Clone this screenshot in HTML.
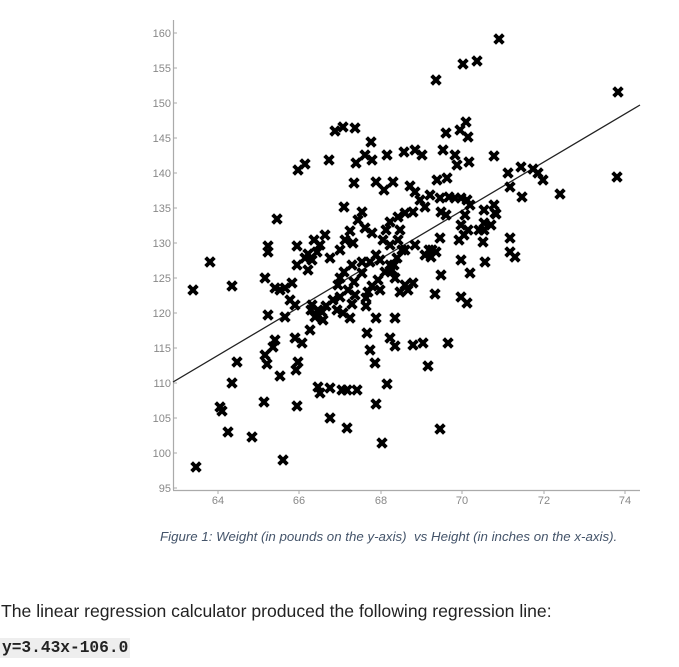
<!DOCTYPE html>
<html><head><meta charset="utf-8"><style>
body{margin:0;background:#fff;width:679px;height:667px;overflow:hidden;position:relative;font-family:"Liberation Sans",sans-serif}
.cap{position:absolute;left:160px;top:529px;font-size:13.3px;font-style:italic;color:#44546a;white-space:nowrap}
.t1{position:absolute;left:1px;top:601px;font-size:17.6px;color:#222;white-space:nowrap}
.t2{position:absolute;left:0;top:638px;font-family:"Liberation Mono",monospace;font-weight:bold;font-size:16.2px;background:#eee;padding:1px 2px;color:#222}
</style></head><body>
<svg width="679" height="520" style="position:absolute;left:0;top:0">
<defs><path id="m" d="M-5,-3 L-3,-5 L0,-2 L3,-5 L5,-3 L2,0 L5,3 L3,5 L0,2 L-3,5 L-5,3 L-2,0Z" fill="#000" stroke="#000" stroke-width="1"/></defs>
<g stroke="#aaa" stroke-width="1.2" fill="none">
<line x1="173.5" y1="20" x2="173.5" y2="490"/>
<line x1="173" y1="490.5" x2="640" y2="490.5"/>
</g>
<g stroke="#aaa">
<line x1="173" y1="33" x2="177" y2="33"/><line x1="173" y1="68" x2="177" y2="68"/><line x1="173" y1="103" x2="177" y2="103"/><line x1="173" y1="138" x2="177" y2="138"/><line x1="173" y1="173" x2="177" y2="173"/><line x1="173" y1="208" x2="177" y2="208"/><line x1="173" y1="243" x2="177" y2="243"/><line x1="173" y1="278" x2="177" y2="278"/><line x1="173" y1="313" x2="177" y2="313"/><line x1="173" y1="348" x2="177" y2="348"/><line x1="173" y1="383" x2="177" y2="383"/><line x1="173" y1="418" x2="177" y2="418"/><line x1="173" y1="453" x2="177" y2="453"/><line x1="173" y1="488" x2="177" y2="488"/>
<line x1="218" y1="490" x2="218" y2="494"/><line x1="299" y1="490" x2="299" y2="494"/><line x1="381" y1="490" x2="381" y2="494"/><line x1="462" y1="490" x2="462" y2="494"/><line x1="544" y1="490" x2="544" y2="494"/><line x1="625" y1="490" x2="625" y2="494"/>
</g>
<g font-size="11" fill="#888" text-anchor="end">
<text x="171" y="37">160</text><text x="171" y="72">155</text><text x="171" y="107">150</text><text x="171" y="142">145</text><text x="171" y="177">140</text><text x="171" y="212">135</text><text x="171" y="247">130</text><text x="171" y="282">125</text><text x="171" y="317">120</text><text x="171" y="352">115</text><text x="171" y="387">110</text><text x="171" y="422">105</text><text x="171" y="457">100</text><text x="171" y="492">95</text>
</g>
<g font-size="11" fill="#888" text-anchor="middle">
<text x="218" y="504">64</text><text x="299" y="504">66</text><text x="381" y="504">68</text><text x="462" y="504">70</text><text x="544" y="504">72</text><text x="625" y="504">74</text>
</g>
<line x1="173" y1="382" x2="640" y2="105" stroke="#222" stroke-width="1.3"/>
<g id="pts"></g>
</svg>
<div class="cap">Figure 1: Weight (in pounds on the y-axis)&nbsp; vs Height (in inches on the x-axis).</div>
<div class="t1">The linear regression calculator produced the following regression line:</div>
<div class="t2">y=3.43x-106.0</div>
<script>
var p=[[499,39],[463,64],[477,61],[436,80],[618,92],[466,122],[460,130],[446,133],[468,137],[335,131],[343,127],[355,128],[371,142],[329,160],[356,163],[372,160],[365,155],[387,155],[404,152],[415,150],[422,155],[443,150],[455,155],[457,165],[469,162],[494,156],[508,173],[521,167],[533,169],[538,173],[543,180],[560,194],[522,197],[510,187],[494,205],[495,213],[484,210],[617,177],[305,164],[298,170],[354,183],[376,182],[384,190],[393,182],[410,186],[415,192],[420,200],[425,207],[430,195],[437,180],[447,178],[449,197],[440,198],[455,198],[461,198],[467,200],[470,205],[465,215],[461,225],[468,230],[464,235],[459,240],[484,230],[483,242],[441,212],[413,212],[405,213],[398,217],[390,222],[386,230],[362,212],[358,220],[365,228],[372,233],[344,207],[277,219],[350,231],[325,235],[314,240],[320,245],[317,252],[308,254],[297,246],[268,246],[268,252],[345,240],[353,243],[340,250],[330,258],[362,262],[370,262],[376,255],[390,245],[398,240],[402,250],[397,258],[390,265],[385,272],[378,280],[372,286],[368,292],[366,298],[366,306],[362,273],[354,282],[348,290],[340,297],[333,300],[326,306],[322,312],[315,317],[312,305],[318,310],[295,305],[290,300],[285,317],[280,290],[275,288],[285,288],[265,278],[292,283],[297,265],[308,270],[312,260],[305,258],[210,262],[193,290],[232,286],[268,315],[275,340],[273,347],[280,376],[295,338],[302,343],[298,362],[296,370],[265,355],[267,364],[237,362],[232,383],[220,407],[222,411],[228,432],[252,437],[264,402],[297,406],[283,460],[196,467],[318,387],[320,393],[330,388],[342,390],[347,390],[357,390],[330,418],[347,428],[376,404],[382,443],[387,384],[375,363],[370,350],[367,333],[376,318],[395,318],[390,338],[395,346],[413,345],[423,343],[428,366],[448,343],[440,429],[435,294],[441,275],[461,260],[470,273],[461,297],[467,303],[479,230],[510,252],[515,257],[510,238],[413,283],[405,285],[408,290],[392,270],[395,278],[380,290],[400,292],[352,304],[350,318],[310,330],[337,310],[343,313],[323,320],[311,310],[425,255],[432,250],[440,238],[400,230],[429,250],[431,257],[405,250],[415,245],[352,265],[344,272],[340,278],[338,285],[355,295],[380,260],[383,240],[394,265],[436,252],[496,214],[491,225],[484,223],[446,215],[485,262]];
var g=document.getElementById('pts'),s='';
p.forEach(function(a){s+='<use href="#m" x="'+a[0]+'" y="'+a[1]+'"/>';});
g.innerHTML=s;
</script>
</body></html>
